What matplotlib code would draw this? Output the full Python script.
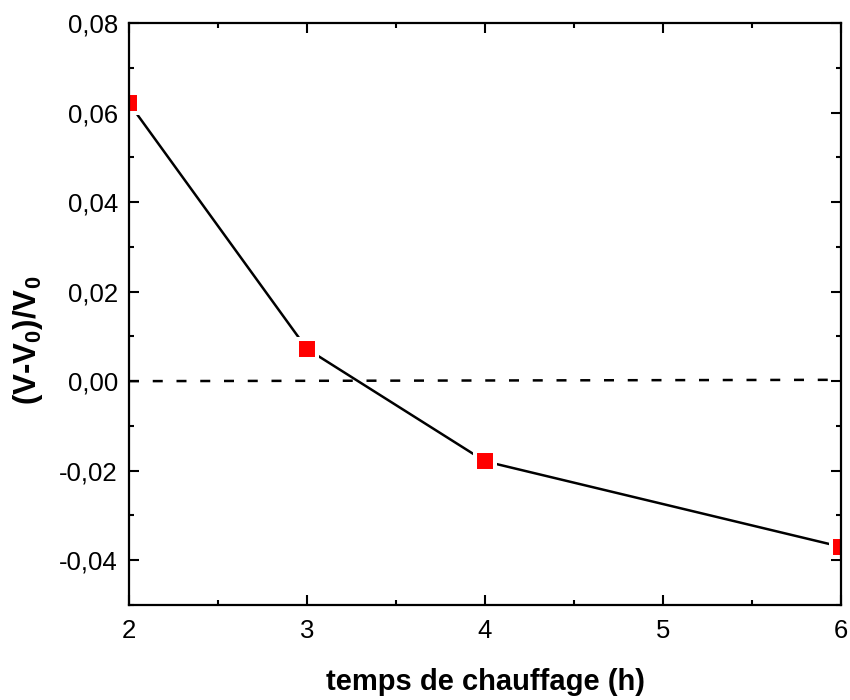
import matplotlib
matplotlib.use("Agg")
import matplotlib.pyplot as plt
from matplotlib.ticker import FuncFormatter, MultipleLocator

plt.rcParams['font.family'] = ['Liberation Sans', 'DejaVu Sans']
plt.rcParams['mathtext.fontset'] = 'custom'
plt.rcParams['mathtext.rm'] = 'Liberation Sans'
plt.rcParams['mathtext.bf'] = 'Liberation Sans:bold'
plt.rcParams['mathtext.default'] = 'bf'
plt.rcParams['lines.scale_dashes'] = False

# heating time (h) and relative volume change
heating_time = [2, 3, 4, 6]
rel_change = [0.0621, 0.0072, -0.0179, -0.0370]

# reference line near zero
ref_x = [2, 6]
ref_y = [0.0, 0.0003]

fig = plt.figure(figsize=(8.5, 7), dpi=100)
ax = fig.add_axes([129 / 850, 1 - 605 / 700, (841 - 129) / 850, (605 - 23) / 700])

ax.plot(ref_x, ref_y, color='black', lw=1.8, dashes=(7.2, 9.9), zorder=1)
ax.plot(heating_time, rel_change, color='black', lw=1.8,
        marker='s', markersize=14.4, markerfacecolor='#ff0000',
        markeredgecolor='white', markeredgewidth=2.9, zorder=2)

ax.set_xlim(2, 6)
ax.set_ylim(-0.05, 0.08)
ax.xaxis.set_major_locator(MultipleLocator(1))
ax.xaxis.set_minor_locator(MultipleLocator(0.5))
ax.yaxis.set_major_locator(MultipleLocator(0.02))
ax.yaxis.set_minor_locator(MultipleLocator(0.01))
ax.yaxis.set_major_formatter(FuncFormatter(lambda v, p: f"{v:.2f}".replace('.', ',').replace('-0,00', '0,00')))
ax.xaxis.set_major_formatter(FuncFormatter(lambda v, p: f"{v:.0f}"))

ax.tick_params(which='both', direction='in', top=True, right=True, width=1.5,
               labelsize=18.5, colors='black')
ax.tick_params(which='major', length=7.5)
ax.tick_params(which='minor', length=3.8)
ax.tick_params(axis='x', which='major', pad=10)
ax.tick_params(axis='y', which='major', pad=8)
for s in ax.spines.values():
    s.set_linewidth(1.6)
    s.set_zorder(3)

ax.set_xlabel('temps de chauffage (h)', fontsize=21, fontweight='bold')
ax.set_ylabel(r'(V-V$_0$)/V$_0$', fontsize=22.5, fontweight='bold')
ax.xaxis.set_label_coords(0.5, -0.108)
ax.yaxis.set_label_coords(-0.118, 0.455)

fig.savefig('out.png', dpi=100)
